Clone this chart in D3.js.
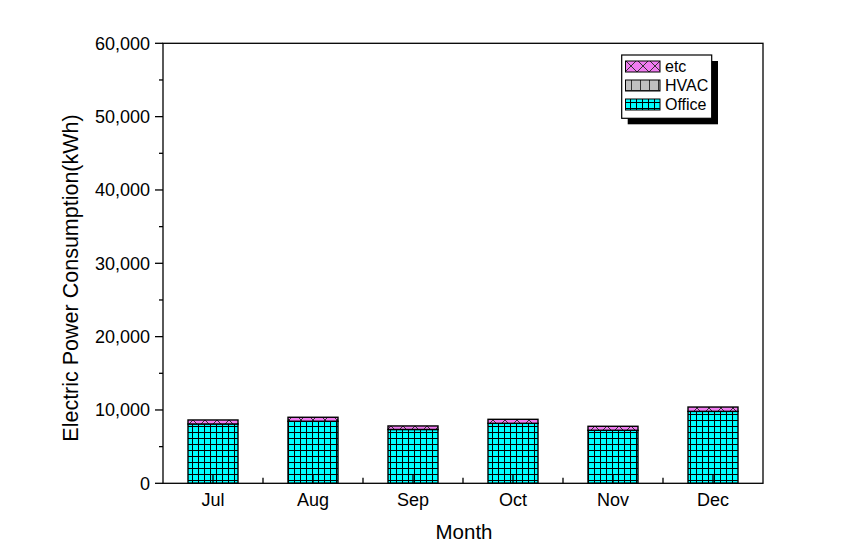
<!DOCTYPE html>
<html>
<head>
<meta charset="utf-8">
<script src="https://cdn.jsdelivr.net/npm/d3@7"></script>
<style>
  html, body { margin: 0; padding: 0; background: #fff; }
  svg { display: block; font-family: "Liberation Sans", Arial, sans-serif; }
</style>
</head>
<body>
<svg id="chart" width="845" height="559"></svg>
<script>
// ---- data ----
const months = ["Jul", "Aug", "Sep", "Oct", "Nov", "Dec"];
const office = [8090, 8460, 7340, 8180, 7230, 9810];
const hvac   = [0, 0, 0, 0, 0, 0];
const etc    = [545, 545, 480, 545, 545, 590];
const seriesNames = ["Office", "HVAC", "etc"];
const legendOrder = ["etc", "HVAC", "Office"];
const yTicks = [0, 10000, 20000, 30000, 40000, 50000, 60000];
const yMinorTicks = [5000, 15000, 25000, 35000, 45000, 55000];

(function () {
const rows = months.map((m, i) => ({ month: m, Office: office[i], HVAC: hvac[i], etc: etc[i] }));

const svg = d3.select("#chart");
const pLeft = 163, pRight = 763, pTop = 43.3, pBottom = 483.3;

const x = d3.scaleBand().domain(months).range([pLeft, pRight]).paddingInner(0.5).paddingOuter(0.25);
const y = d3.scaleLinear().domain([0, 60000]).range([pBottom, pTop]);

// ---- patterns ----
const defs = svg.append("defs");
const pOffice = defs.append("pattern").attr("id", "pOffice").attr("patternUnits", "userSpaceOnUse")
  .attr("width", 6).attr("height", 6).attr("x", 0).attr("y", 0);
pOffice.append("rect").attr("width", 6).attr("height", 6).attr("fill", "#00FFFF");
pOffice.append("path").attr("d", "M0,0.5H6M0.5,0V6").attr("stroke", "#000").attr("stroke-width", 1.1)
  .attr("shape-rendering", "crispEdges");

const pHvac = defs.append("pattern").attr("id", "pHVAC").attr("patternUnits", "userSpaceOnUse")
  .attr("width", 9).attr("height", 12).attr("x", 1).attr("y", 0);
pHvac.append("rect").attr("width", 9).attr("height", 12).attr("fill", "#C0C0C0");
pHvac.append("path").attr("d", "M0,6.5H9M0.5,0V12").attr("stroke", "#333").attr("stroke-width", 1)
  .attr("shape-rendering", "crispEdges");

const pEtc = defs.append("pattern").attr("id", "pEtc").attr("patternUnits", "userSpaceOnUse")
  .attr("width", 12).attr("height", 12).attr("x", 1).attr("y", 0);
pEtc.append("rect").attr("width", 12).attr("height", 12).attr("fill", "#F07CF0");
pEtc.append("path").attr("d", "M0,0L12,12M0,12L12,0").attr("stroke", "#333").attr("stroke-width", 1);

const fills = { Office: "url(#pOffice)", HVAC: "url(#pHVAC)", etc: "url(#pEtc)" };

// ---- bars ----
const stacked = d3.stack().keys(seriesNames)(rows);
const g = svg.append("g");
stacked.forEach(layer => {
  g.selectAll(null).data(layer.filter(d => d[1] - d[0] > 0)).enter().append("rect")
    .attr("x", d => x(d.data.month))
    .attr("y", d => y(d[1]))
    .attr("width", x.bandwidth())
    .attr("height", d => y(d[0]) - y(d[1]))
    .attr("fill", fills[layer.key])
    .attr("stroke", "#000")
    .attr("stroke-width", 1.4);
});

// ---- frame ----
svg.append("rect").attr("x", pLeft).attr("y", pTop).attr("width", pRight - pLeft).attr("height", pBottom - pTop)
  .attr("fill", "none").attr("stroke", "#000").attr("stroke-width", 1.3);

// ---- y axis ----
const yAxis = svg.append("g");
yAxis.selectAll(".maj").data(yTicks).enter().append("line")
  .attr("x1", pLeft - 8).attr("x2", pLeft).attr("y1", d => y(d)).attr("y2", d => y(d))
  .attr("stroke", "#000").attr("stroke-width", 1.3);
yAxis.selectAll(".min").data(yMinorTicks).enter().append("line")
  .attr("x1", pLeft - 4).attr("x2", pLeft).attr("y1", d => y(d)).attr("y2", d => y(d))
  .attr("stroke", "#000").attr("stroke-width", 1.3);
yAxis.selectAll("text").data(yTicks).enter().append("text")
  .attr("x", 150).attr("y", d => y(d) + 6.3)
  .attr("text-anchor", "end").attr("font-size", 18).attr("fill", "#000")
  .text(d => d3.format(",")(d));

// ---- x axis ticks ----
const xAxis = svg.append("g");
xAxis.selectAll(".maj").data(months).enter().append("line")
  .attr("x1", d => x(d) + x.bandwidth() / 2).attr("x2", d => x(d) + x.bandwidth() / 2)
  .attr("y1", pBottom).attr("y2", pBottom - 9)
  .attr("stroke", "#000").attr("stroke-width", 1.3);
xAxis.selectAll(".min").data(months.slice(1)).enter().append("line")
  .attr("x1", d => x(d) + x.bandwidth() / 2 - x.step() / 2)
  .attr("x2", d => x(d) + x.bandwidth() / 2 - x.step() / 2)
  .attr("y1", pBottom).attr("y2", pBottom - 5.5)
  .attr("stroke", "#000").attr("stroke-width", 1.3);
xAxis.selectAll("text").data(months).enter().append("text")
  .attr("x", d => x(d) + x.bandwidth() / 2).attr("y", 506)
  .attr("text-anchor", "middle").attr("font-size", 18).attr("fill", "#000")
  .text(d => d);

// ---- axis titles ----
svg.append("text").attr("x", 464).attr("y", 539).attr("text-anchor", "middle")
  .attr("font-size", 20.5).attr("fill", "#000").text("Month");
svg.append("text").attr("transform", "translate(78,278) rotate(-90)").attr("text-anchor", "middle")
  .attr("font-size", 21.5).attr("fill", "#000").text("Electric Power Consumption(kWh)");

// ---- legend ----
const lg = svg.append("g");
lg.append("rect").attr("x", 627.7).attr("y", 61).attr("width", 90.3).attr("height", 63.3).attr("fill", "#000");
lg.append("rect").attr("x", 621.7).attr("y", 55).attr("width", 90).attr("height", 63.3)
  .attr("fill", "#fff").attr("stroke", "#000").attr("stroke-width", 1.2);
const ly = d3.scaleBand().domain(legendOrder).range([60, 117]);
legendOrder.forEach(k => {
  lg.append("rect").attr("x", 625.5).attr("y", ly(k) + 1).attr("width", 34.5).attr("height", 11)
    .attr("fill", fills[k]).attr("stroke", "#000").attr("stroke-width", 1);
  lg.append("text").attr("x", 665).attr("y", ly(k) + 12.3).attr("font-size", 16).attr("fill", "#000").text(k);
});
})();
</script>
</body>
</html>
